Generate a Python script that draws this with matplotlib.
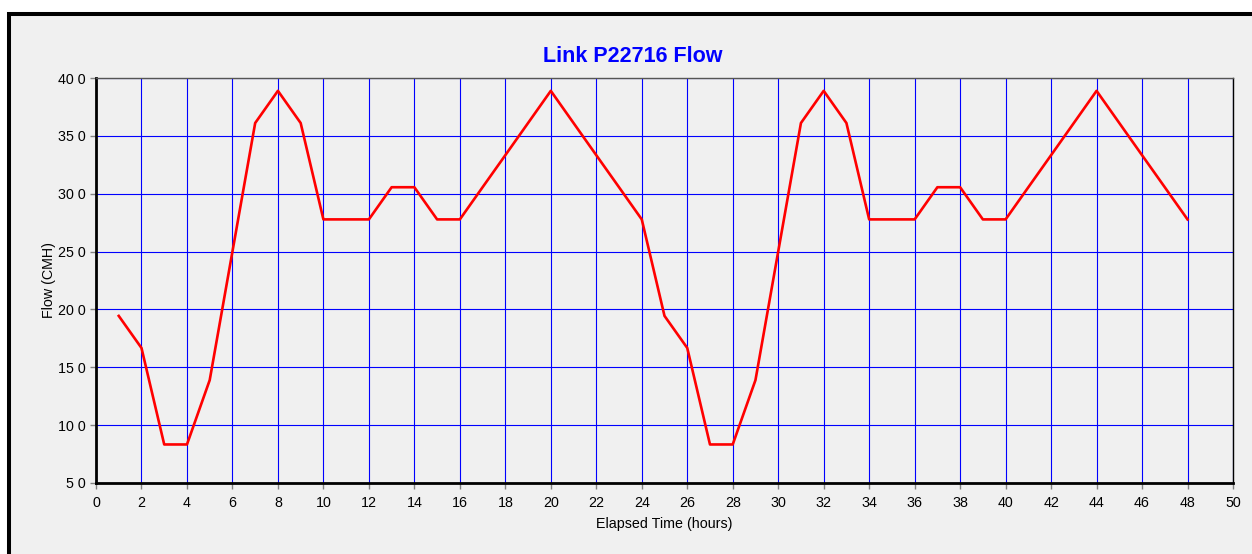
import matplotlib
matplotlib.use("Agg")
import matplotlib.pyplot as plt
from matplotlib.patches import Rectangle

plt.rcParams['font.family'] = ['Liberation Sans', 'DejaVu Sans']

# hourly link flow over two days
hours = list(range(1, 49))
flow = [19.44, 16.67, 8.33, 8.33, 13.89, 25.00, 36.11, 38.89, 36.11, 27.78,
        27.78, 27.78, 30.56, 30.56, 27.78, 27.78, 30.56, 33.33, 36.11, 38.89,
        36.11, 33.33, 30.56, 27.78,
        19.44, 16.67, 8.33, 8.33, 13.89, 25.00, 36.11, 38.89, 36.11, 27.78,
        27.78, 27.78, 30.56, 30.56, 27.78, 27.78, 30.56, 33.33, 36.11, 38.89,
        36.11, 33.33, 30.56, 27.78]

x_ticks = list(range(0, 51, 2))
y_ticks = [5, 10, 15, 20, 25, 30, 35, 40]
y_tick_labels = ["5 0", "10 0", "15 0", "20 0", "25 0", "30 0", "35 0", "40 0"]

W, H = 1252, 554
fig = plt.figure(figsize=(W / 100, H / 100), dpi=100, facecolor='white')

# gray panel with heavy black frame on top and left
panel = Rectangle((9 / W, -0.2), 1.5, 1 - 14 / H + 0.2, transform=fig.transFigure,
                  facecolor='#f0f0f0', edgecolor='black', lw=2.9, zorder=-10)
fig.patches.append(panel)

ax = fig.add_axes([96 / W, 1 - 483 / H, (1233 - 96) / W, (483 - 78) / H])
ax.set_facecolor('#f0f0f0')

ax.plot(hours, flow, color='red', lw=1.9, zorder=3)

ax.set_xlim(0, 50)
ax.set_ylim(5, 40)
ax.set_xticks(x_ticks)
ax.set_yticks(y_ticks)
ax.set_yticklabels(y_tick_labels)
ax.tick_params(axis='both', labelsize=10.3, color='#808080', length=4.5, width=1,
               labelcolor='black')
ax.tick_params(axis='x', pad=5)
ax.tick_params(axis='y', pad=3)

ax.grid(True, color='#0000ff', lw=0.8, zorder=1)
ax.set_axisbelow(True)

for side in ['left', 'bottom']:
    ax.spines[side].set_linewidth(2)
    ax.spines[side].set_color('black')
ax.spines['top'].set_color('#555555')
ax.spines['top'].set_linewidth(1)
ax.spines['right'].set_color('black')
ax.spines['right'].set_linewidth(1)

# title is centred on the whole panel, not on the plot area
fig.text(633 / W, 1 - 56 / H, 'Link P22716 Flow', color='#0000ff', fontsize=15.5,
         fontweight='bold', ha='center', va='center')
ax.set_xlabel('Elapsed Time (hours)', fontsize=10.3, labelpad=5)
ax.set_ylabel('Flow (CMH)', fontsize=10.3, labelpad=1)

fig.savefig('out.png', dpi=100, facecolor=fig.get_facecolor())
